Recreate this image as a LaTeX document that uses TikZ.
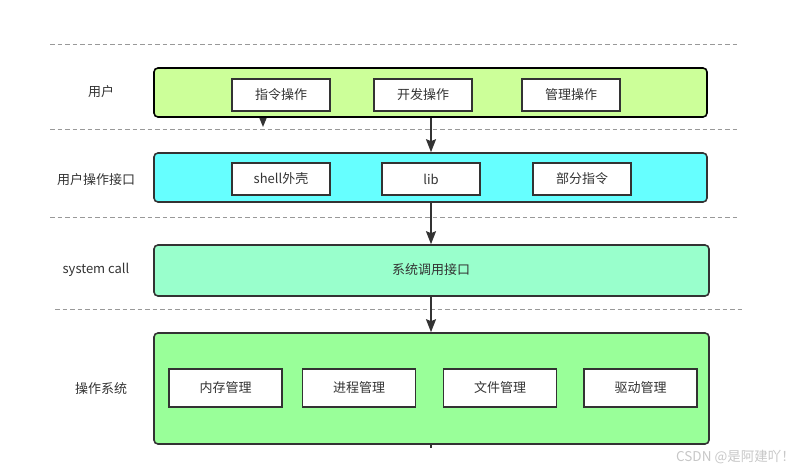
\documentclass[tikz,border=0pt]{standalone}
\usepackage{fontspec}
\setmainfont{Noto Sans CJK SC}
\usetikzlibrary{arrows.meta,backgrounds}
\definecolor{txt}{HTML}{333333}
\definecolor{userfill}{HTML}{CCFF99}
\definecolor{ifill}{HTML}{66FFFF}
\definecolor{scfill}{HTML}{99FFCC}
\definecolor{osfill}{HTML}{99FF99}
\definecolor{dashc}{HTML}{999999}
\tikzset{
  layer/.style={draw=txt, line width=1.6pt, rounded corners=4pt, inner sep=0pt, minimum width=553pt, minimum height=49pt},
  item/.style={draw=txt, fill=white, line width=1.8pt, inner sep=0pt, minimum width=98pt, minimum height=32pt, text=txt, font=\fontsize{13}{15}\selectfont},
  ositem/.style={item, minimum width=113pt, minimum height=38pt},
  lbl/.style={text=txt, font=\fontsize{13}{15}\selectfont, inner sep=0pt},
  sep/.style={draw=dashc, line width=1pt, dash pattern=on 4.5pt off 3pt},
  flow/.style={draw=txt, line width=1.8pt, -{Stealth[length=13pt,width=10pt,inset=2pt]}}
}
\begin{document}
\begin{tikzpicture}[x=1pt,y=-1pt]
\useasboundingbox (0,0) rectangle (804,473);
% separators
\coordinate (s1a) at (50,45);  \coordinate (s1b) at (740,45);
\coordinate (s2a) at (50,130); \coordinate (s2b) at (740,130);
\coordinate (s3a) at (50,218); \coordinate (s3b) at (740,218);
\coordinate (s4a) at (55,310); \coordinate (s4b) at (743,310);
\draw[sep] (s1a) -- (s1b);
\draw[sep] (s2a) -- (s2b);
\draw[sep] (s3a) -- (s3b);
\draw[sep] (s4a) -- (s4b);
% layers
\node[layer, draw=black, fill=userfill] (ub) at (430.5,92.5) {};
\node[layer, fill=ifill] (ui) at (430.5,177.5) {};
\node[layer, fill=scfill, minimum width=555pt, minimum height=51pt] (sc) at (431.5,270.5) {};
\node[layer, fill=osfill, minimum width=555pt, minimum height=111pt] (os) at (431.5,388.5) {};
% left labels
\node[lbl] (l1) at (101,92) {用户};
\node[lbl] (l2) at (96,180) {用户操作接口};
\node[lbl] (l3) at (96,270) {system call};
\node[lbl] (l4) at (101,389) {操作系统};
% user items
\node[item] (zl) at (281,95) {指令操作};
\node[item] (kf) at (423,95) {开发操作};
\node[item] (gl) at (571,95) {管理操作};
% interface items
\node[item] (sh) at (281,179) {shell外壳};
\node[item] (lib) at (431,179) {lib};
\node[item] (bf) at (582,179) {部分指令};
% syscall text
\node[lbl] (sct) at (431,270) {系统调用接口};
% os items
\node[ositem] (nc) at (225.5,388) {内存管理};
\node[ositem] (jc) at (359,388) {进程管理};
\node[ositem] (wj) at (500,388) {文件管理};
\node[ositem] (qd) at (640.5,388) {驱动管理};
% connectors
\draw[flow] (ub.south -| lib) -- (ui.north -| lib);
\draw[flow] (ui.south -| lib) -- (sc.north -| lib);
\draw[flow] (sc.south -| lib) -- (os.north -| lib);
\coordinate (tail) at (431,448);
\coordinate (stray) at (263,127);
\begin{scope}[on background layer]
\draw[draw=txt, line width=1.8pt] (os.center -| lib) -- (tail);
\draw[draw=txt, line width=1.5pt, -{Stealth[length=10pt,width=8pt,inset=1.5pt]}] (ub.center -| stray) -- (stray);
\end{scope}
% watermark
\node[text=black!22, font=\fontsize{13.5}{15}\selectfont, inner sep=0pt, anchor=east] (wm) at (795,457) {CSDN @是阿建吖！};
\end{tikzpicture}
\end{document}
